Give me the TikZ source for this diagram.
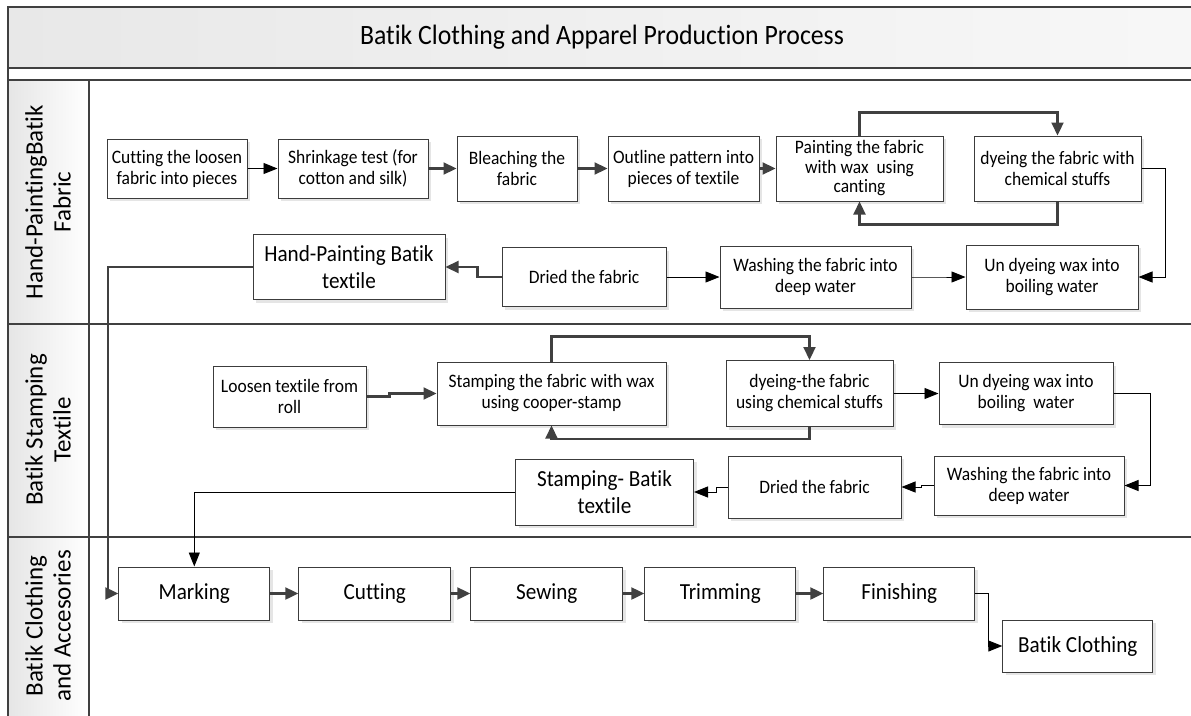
\documentclass[tikz,border=0pt]{standalone}
\usepackage{fontspec}
\setmainfont{Carlito}[FakeStretch=0.92, Ligatures=CommonOff]
\newfontfamily\lanefont{Carlito}[Ligatures=CommonOff]
\usetikzlibrary{arrows.meta,positioning,shadows}
\definecolor{frameline}{RGB}{64,64,64}
\definecolor{boxline}{RGB}{60,60,60}

\begin{document}
\begin{tikzpicture}[x=1pt, y=-1pt,
  box/.style={draw=boxline, line width=1pt, fill=white, align=center, inner xsep=2pt, inner ysep=1pt, font=\fontsize{19}{21}\selectfont,
    drop shadow={shadow xshift=3pt, shadow yshift=-3pt, opacity=1, fill=black!10}},
  bigbox/.style={box, font=\fontsize{23}{27}\selectfont},
  arr/.style={draw=frameline, line width=2.2pt, -{Triangle[length=13pt, width=12pt]}},
  tarr/.style={draw=black, line width=0.9pt, -{Triangle[length=14pt, width=11pt]}},
  lane/.style={rotate=90, align=center, font=\lanefont\fontsize{25}{28}\selectfont},
  frame/.style={draw=frameline, line width=1.8pt}]
\useasboundingbox (0,0) rectangle (1191,715);
\clip (0,0) rectangle (1191,715);
\shade[left color=black!9, right color=black!3] (8,7) rectangle (1193,68);
\shade[left color=black!10, right color=white] (8,80) rectangle (89,720);
\draw[frame] (8,7) rectangle (1193,68); \draw[frame] (8,68) rectangle (1193,80);
\draw[frame] (8,80) -- (8,720); \draw[frame] (89,80) -- (89,720);
\draw[frame] (8,324) -- (1193,324); \draw[frame] (8,537) -- (1193,537);

\node[font=\fontsize{28}{30}\selectfont] (title) at (602,37) {Batik Clothing and Apparel Production Process};
\node[lane] (lhand) at (48,202) {Hand-PaintingBatik\\Fabric};
\node[lane] (lstamp) at (48,430) {Batik Stamping\\Textile};
\node[lane] (lcloth) at (48,626) {Batik Clothing\\and Accesories};

\node[box, minimum width=140pt, minimum height=59pt] (cut) at (177,168.5) {Cutting the loosen\\fabric into pieces};
\node[box, minimum width=150pt, minimum height=59pt, right=30pt of cut] (shrink) {Shrinkage test (for\\cotton and silk)};
\node[box, minimum width=120pt, minimum height=65pt, right=28pt of shrink] (bleach) {Bleaching the\\fabric};
\node[box, minimum width=151pt, minimum height=65pt, right=30pt of bleach] (outline) {Outline pattern into\\pieces of textile};
\node[box, minimum width=167pt, minimum height=65pt, right=16pt of outline, font=\fontsize{19}{19.5}\selectfont] (paint) {Painting the fabric\\with wax\ \ using\\canting};
\node[box, minimum width=167pt, minimum height=65pt, right=30pt of paint] (dyech) {dyeing the fabric with\\chemical stuffs};

\node[box, minimum width=164pt, minimum height=59pt] (dry1) at (584,277) {Dried the fabric};
\node[box, minimum width=191pt, minimum height=62pt, right=53pt of dry1] (wash1) {Washing the fabric into\\deep water};
\node[box, minimum width=172pt, minimum height=64pt, right=54pt of wash1] (undye1) {Un dyeing wax into\\boiling water};
\node[bigbox, minimum width=192pt, minimum height=65pt, left=56pt of dry1, yshift=10pt] (hpb) {Hand-Painting Batik\\textile};

\node[box, minimum width=229pt, minimum height=63pt] (stamp) at (551.5,393.5) {Stamping the fabric with wax\\using cooper-stamp};
\node[box, minimum width=153pt, minimum height=61pt, left=70pt of stamp, yshift=-3pt] (loosen) {Loosen textile from\\roll};
\node[box, minimum width=167pt, minimum height=66pt, right=59pt of stamp] (dyest) {dyeing-the fabric\\using chemical stuffs};
\node[box, minimum width=174pt, minimum height=62pt, right=45pt of dyest] (undye2) {Un dyeing wax into\\boiling\ \ water};
\node[box, minimum width=190pt, minimum height=59pt] (wash2) at (1029,485.5) {Washing the fabric into\\deep water};
\node[box, minimum width=173pt, minimum height=62pt, left=32pt of wash2, yshift=-1.5pt] (dry2) {Dried the fabric};
\node[bigbox, minimum width=178pt, minimum height=66pt, left=33.5pt of dry2, yshift=-5pt] (sb) {Stamping- Batik\\textile};

\node[bigbox, minimum width=151pt, minimum height=53pt] (mark) at (194.3,593.5) {Marking};
\node[bigbox, minimum width=152pt, minimum height=53pt, right=28pt of mark] (cutt) {Cutting};
\node[bigbox, minimum width=152pt, minimum height=53pt, right=19pt of cutt] (sew) {Sewing};
\node[bigbox, minimum width=151pt, minimum height=53pt, right=21pt of sew] (trim) {Trimming};
\node[bigbox, minimum width=151pt, minimum height=53pt, right=27pt of trim] (fin) {Finishing};
\node[bigbox, minimum width=150pt, minimum height=52pt] (bc) at (1077.8,646) {Batik Clothing};

\draw[tarr] (cut) -- (shrink); \draw[arr] (shrink) -- (bleach); \draw[arr] (bleach) -- (outline); \draw[arr] (outline) -- (paint);
\draw[arr] (paint.north) -- ++(0,-23) -| (dyech.north); \draw[arr] (dyech.south) -- ++(0,23) -| (paint.south);
\draw[tarr] (dyech.east) -- ++(24,0) |- (undye1.east);
\draw[tarr] (wash1.east) -- ++(30,0) |- (undye1.west); \draw[tarr] (dry1) -- (wash1);
\draw[arr] (dry1.west) -- ++(-24,0) |- (hpb.east);
\draw[arr] (hpb.west) -| ([xshift=-10pt]mark.west) -- (mark.west);

\draw[arr] (loosen.east) -- ++(23,0) |- (stamp.west);
\draw[arr] (stamp.north) -- ++(0,-25) -| (dyest.north); \draw[arr] (dyest.south) -- ++(0,12) -| (stamp.south);
\draw[tarr] (dyest.east) -- ++(24,0) |- (undye2.west);
\draw[tarr] (undye2.east) -- ++(36.5,0) |- (wash2.east);
\draw[tarr] (wash2.west) -- ++(-12,0) |- (dry2.east); \draw[tarr] (dry2.west) -- ++(-11.5,0) |- (sb.east);
\draw[tarr] (sb.west) -| (mark.north);

\draw[arr] (mark) -- (cutt); \draw[arr] (cutt) -- (sew); \draw[arr] (sew) -- (trim); \draw[arr] (trim) -- (fin);
\draw[tarr] (fin.east) -- ++(13,0) |- (bc.west);
\end{tikzpicture}
\end{document}
